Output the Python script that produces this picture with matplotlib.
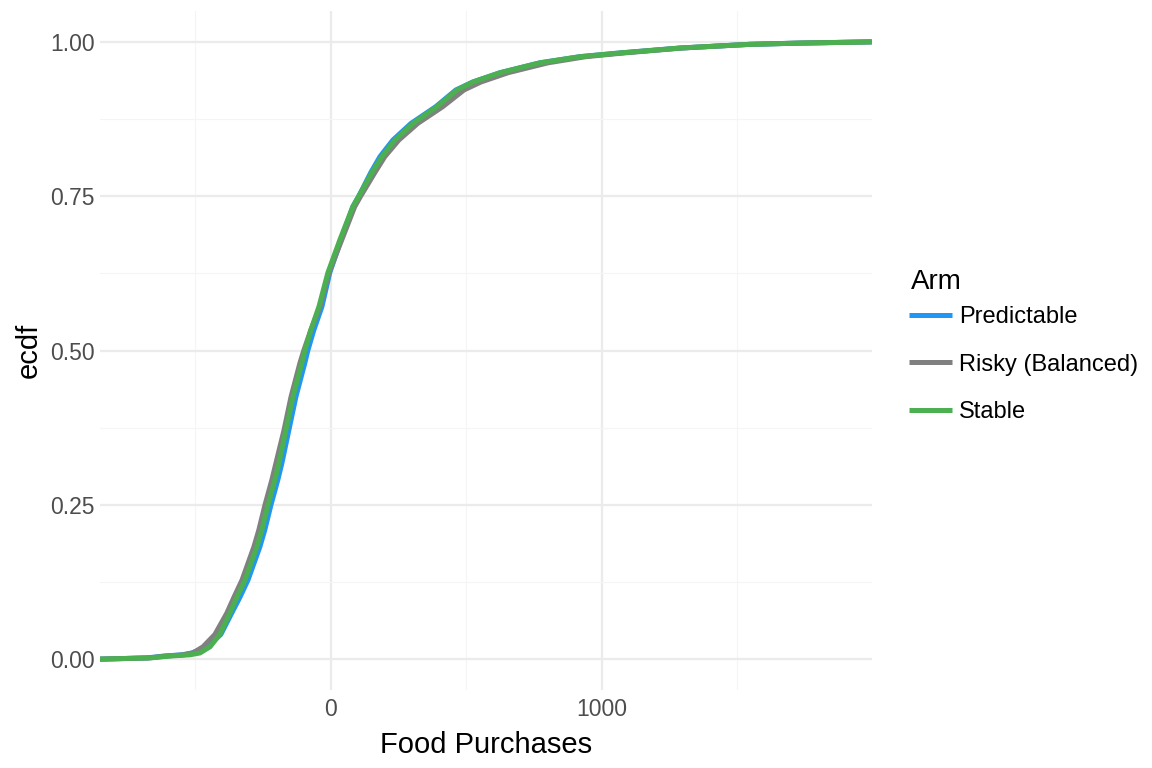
import matplotlib
matplotlib.use("Agg")
import matplotlib.pyplot as plt

# ECDF levels and the food purchase value where each arm reaches that level
ecdf_levels = [0.0, 0.002, 0.005, 0.007, 0.01, 0.02, 0.04, 0.0745, 0.10, 0.128,
               0.155, 0.182, 0.209, 0.25, 0.29, 0.317, 0.371, 0.425, 0.48, 0.5,
               0.533, 0.571, 0.626, 0.679, 0.733, 0.75, 0.788, 0.814, 0.841, 0.868,
               0.895, 0.922, 0.935, 0.95, 0.966, 0.976, 0.982, 0.99, 0.996, 0.998,
               1.0]
predictable_x = [-852, -679, -616, -550, -513, -457, -406, -366, -336, -306,
                 -284, -262, -244, -221, -196, -181, -155, -129, -96, -85,
                 -63, -33, -4, 37, 81, 103, 147, 181, 229, 296,
                 387, 461, 524, 624, 771, 919, 1066, 1288, 1546, 1731,
                 1996]
risky_x = [-852, -668, -609, -542, -509, -472, -428, -384, -358, -328,
           -306, -284, -266, -243, -218, -203, -173, -147, -114, -100,
           -74, -40, -7, 40, 88, 110, 162, 199, 251, 321,
           413, 491, 554, 654, 801, 941, 1081, 1295, 1546, 1731,
           1996]
stable_x = [-852, -668, -594, -520, -483, -446, -410, -373, -347, -317,
            -295, -273, -255, -232, -207, -192, -166, -140, -107, -96,
            -74, -44, -11, 33, 81, 103, 151, 188, 236, 303,
            391, 465, 524, 624, 771, 919, 1066, 1288, 1546, 1731,
            1996]

arms = ["Predictable", "Risky (Balanced)", "Stable"]
colors = ["#2196F3", "#808080", "#4CAF50"]
x_ticks = [0, 1000]
y_ticks = [0.0, 0.25, 0.5, 0.75, 1.0]
y_tick_labels = ["0.00", "0.25", "0.50", "0.75", "1.00"]

plt.rcParams['font.family'] = ['Liberation Sans', 'DejaVu Sans']

fig = plt.figure(figsize=(11.52, 7.68), dpi=100)
ax = fig.add_axes([100 / 1152, 1 - 690 / 768, 772 / 1152, 679 / 768])

for arm, xs, col in zip(arms, [predictable_x, risky_x, stable_x], colors):
    ax.plot(xs, ecdf_levels, color=col, linewidth=3.6, label=arm,
            solid_capstyle='butt', solid_joinstyle='round')

ax.set_xlim(-852, 1997)
ax.set_ylim(-0.05, 1.05)

# grid like theme_minimal
ax.set_xticks(x_ticks)
ax.set_xticks([-500, 500, 1500], minor=True)
ax.set_yticks(y_ticks)
ax.set_yticklabels(y_tick_labels)
ax.set_yticks([0.125, 0.375, 0.625, 0.875], minor=True)
ax.grid(True, which='major', color='#EBEBEB', linewidth=1.6)
ax.grid(True, which='minor', color='#F5F5F5', linewidth=0.8)
ax.set_axisbelow(True)
for s in ax.spines.values():
    s.set_visible(False)
ax.tick_params(which='both', length=0)
ax.tick_params(axis='both', labelsize=16.5, labelcolor='#4D4D4D')
ax.tick_params(axis='y', pad=4)
ax.tick_params(axis='x', pad=6)

ax.set_xlabel("Food Purchases", fontsize=21, labelpad=7)
ax.set_ylabel("ecdf", fontsize=21, labelpad=5)

fig.text(911 / 1152, 1 - 282 / 768, "Arm", fontsize=20, va='center', ha='left')
leg = ax.legend(loc='upper left', bbox_to_anchor=(909 / 1152, 1 - 306 / 768),
                bbox_transform=fig.transFigure, frameon=False,
                fontsize=17, handlelength=1.82, handletextpad=0.3,
                labelspacing=1.09, borderpad=0, borderaxespad=0)

fig.savefig("out.png", dpi=100)
